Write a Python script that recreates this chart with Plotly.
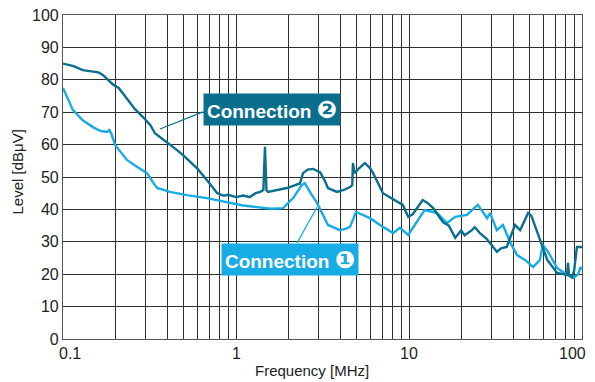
import math
import plotly.graph_objects as go

# Connection 2 (dark teal)
freq2 = [0.1, 0.115, 0.13, 0.149, 0.16, 0.17, 0.195, 0.21, 0.244, 0.26, 0.29, 0.32, 0.34, 0.364, 0.40,
         0.456, 0.5, 0.564, 0.6, 0.68, 0.73, 0.78, 0.85, 0.9, 1.0, 1.1, 1.2, 1.3, 1.38, 1.44, 1.47, 1.5,
         1.53, 1.7, 1.97, 2.2, 2.34, 2.44, 2.6, 2.79, 3.06, 3.25, 3.4, 3.83, 4.2, 4.56, 4.7, 4.74, 4.85,
         5.1, 5.56, 5.9, 6.2, 7.07, 8.5, 9.2, 9.9, 10.5, 12, 12.8, 13.8, 15.7, 17, 18.5, 20, 21, 23.1, 24,
         25.7, 28, 32.2, 34, 36.7, 41, 43.9, 48.8, 51, 55, 60, 63, 71.8, 80, 82, 83, 84, 87.5, 90, 93.5, 100]
level2 = [85, 84.2, 83, 82.4, 82.3, 81.5, 78.5, 77.5, 72.8, 71, 68.5, 66, 63.5, 62.3, 60.8,
          58.3, 56.5, 53.7, 52.5, 49, 47, 45, 44.2, 44.5, 43.8, 44.3, 43.8, 45, 45.4, 46, 59.3, 46,
          45.4, 46, 46.6, 47.5, 48, 51.2, 52.3, 52.5, 51.5, 49, 46.6, 45.4, 46, 46.9, 47.5, 54.3, 51.2,
          52.5, 54.3, 53, 51.2, 45, 42.3, 41.4, 37.7, 38.5, 42.9, 42, 40.4, 36.1, 35, 31.2, 33.5, 32, 33.6, 34.5,
          32.7, 31, 26.9, 28, 28.4, 35.2, 33.6, 38.9, 38, 33, 27, 24.4, 20.4, 20, 19.8, 23.5, 20, 19.1, 21, 28.4, 28.4]

# Connection 1 (light blue)
freq1 = [0.1, 0.114, 0.13, 0.149, 0.165, 0.18, 0.185, 0.19, 0.2, 0.235, 0.27, 0.306, 0.33, 0.35, 0.415,
         0.52, 0.68, 0.89, 1.0, 1.1, 1.32, 1.6, 1.87, 2.14, 2.4, 2.5, 2.7, 2.94, 3.4, 3.99, 4.3, 4.56, 4.94,
         5.95, 7.07, 8.1, 8.87, 9.9, 12.3, 14.5, 16.6, 18.5, 21.6, 25, 28.3, 29.4, 32.2, 34.9, 38.4, 42.1,
         46.9, 52.2, 57.1, 59.4, 63.7, 71.8, 82, 88.9, 95, 98, 100]
level1 = [77.5, 70.7, 67.5, 65.4, 64.2, 63.9, 64.5, 63.5, 59.9, 55.2, 53, 51.2, 48.5, 46.6, 45.4,
          44.4, 43.5, 42.3, 41.7, 41.2, 40.7, 40.2, 40.4, 43.5, 47.5, 48.1, 45, 42, 35.2, 33.6, 34, 34.6, 39.2,
          37.3, 34.6, 32.7, 34.3, 32.1, 39.8, 38.9, 35.8, 37.7, 38.3, 41.4, 37.3, 38.9, 33.6, 35.2, 29.9, 25.9,
          24.4, 22.2, 24.4, 29, 26.9, 21.9, 19.8, 18.8, 20, 22.2, 21.5]

# grid positions and decade tick labels
x_grid_vals = [m * 10 ** e for e in (-1, 0, 1) for m in range(1, 10)] + [100]
x_label_vals = [0.1, 1, 10, 100]
x_label_text = ["0.1", "1", "10", "100"]
x_label_shift = [7, 0, 0, -10]
y_tick_vals = list(range(0, 101, 10))

labels = ["Connection", "Connection"]
label_marks = ["❷", "❶"]
label_pos = [(1.615, 70.8), (2.05, 24.5)]
leaders = [([0.644, 0.364], [70.1, 64.8]), ([2.25, 2.94], [29.6, 40.7])]

DARK = "#0a6f8c"
LIGHT = "#17ade4"
FONT = "Liberation Sans, Arial, Helvetica, sans-serif"

fig = go.Figure()
fig.add_trace(go.Scatter(x=freq1, y=level1, mode="lines", line=dict(color=LIGHT, width=2.4),
                         showlegend=False, hoverinfo="skip"))
fig.add_trace(go.Scatter(x=freq2, y=level2, mode="lines", line=dict(color=DARK, width=2.4),
                         showlegend=False, hoverinfo="skip"))
for (lx, ly), col in zip(leaders, [DARK, LIGHT]):
    fig.add_trace(go.Scatter(x=lx, y=ly, mode="lines", line=dict(color=col, width=1.2),
                             showlegend=False, hoverinfo="skip"))

for txt, mark, (fx, fy), col in zip(labels, label_marks, label_pos, [DARK, LIGHT]):
    fig.add_annotation(x=math.log10(fx), y=fy, xref="x", yref="y",
                       text=f"{txt} <span style='font-family:DejaVu Sans;font-size:24px'>{mark}</span>",
                       showarrow=False,
                       font=dict(family=FONT, size=19, color="white", weight="bold"),
                       bgcolor=col, width=134, height=29, borderpad=1, align="center", valign="middle")

# x tick labels
for v, t, s in zip(x_label_vals, x_label_text, x_label_shift):
    fig.add_annotation(x=math.log10(v), y=0, xref="x", yref="paper", text=t, showarrow=False,
                       xanchor="center", yanchor="top", xshift=s, yshift=-4,
                       font=dict(family=FONT, size=16, color="#222"))

# axis titles
fig.add_annotation(x=0.48, y=-0.098, xref="paper", yref="paper", text="Frequency [MHz]", showarrow=False,
                   xanchor="center", yanchor="middle", font=dict(family=FONT, size=15, color="#222"))
fig.add_annotation(x=-0.088, y=0.515, xref="paper", yref="paper", text="Level [dBμV]", showarrow=False,
                   textangle=-90, xanchor="center", yanchor="middle", font=dict(family=FONT, size=15, color="#222"))

grid_col = "#2f2f2f"
fig.update_xaxes(type="log", range=[-1, 2], tickvals=x_grid_vals, showticklabels=False,
                 showgrid=True, gridcolor=grid_col, gridwidth=1, showline=True, linecolor="#555",
                 linewidth=1.2, mirror=True, ticks="", zeroline=False, automargin=False)
fig.update_yaxes(range=[0, 100], tickvals=y_tick_vals, showgrid=True, gridcolor=grid_col, gridwidth=1,
                 showline=True, linecolor="#555", linewidth=1.2, mirror=True, ticks="", zeroline=False,
                 automargin=False, ticklabeloverflow="allow",
                 tickfont=dict(family=FONT, size=16, color="#222"))
fig.update_layout(width=595, height=382, margin=dict(l=63, r=13, t=15, b=43, autoexpand=False),
                  paper_bgcolor="white", plot_bgcolor="white")
fig.write_html("out.html", config={"displayModeBar": False},
               post_script="document.body.style.margin='0px';document.body.style.overflow='hidden';")
